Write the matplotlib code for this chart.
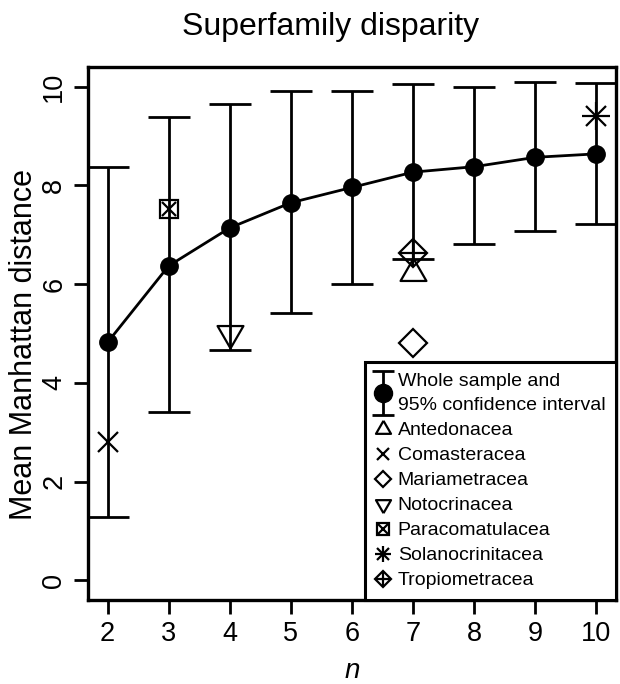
import numpy as np
import matplotlib
matplotlib.use('Agg')
import matplotlib.pyplot as plt
from matplotlib.lines import Line2D
from matplotlib.legend_handler import HandlerTuple, HandlerErrorbar

plt.rcParams['font.family'] = ['Liberation Sans', 'DejaVu Sans']

# whole-sample rarefaction: mean and 95% CI per n
n_vals = [2, 3, 4, 5, 6, 7, 8, 9, 10]
mean_dist = [4.82, 6.37, 7.14, 7.65, 7.96, 8.27, 8.38, 8.57, 8.64]
ci_upper = [8.37, 9.38, 9.65, 9.91, 9.91, 10.05, 9.99, 10.10, 10.07]
ci_lower = [1.28, 3.41, 4.66, 5.42, 6.01, 6.51, 6.81, 7.08, 7.22]

# superfamilies: (name, n, mean distance)
fam_names = ['Antedonacea', 'Comasteracea', 'Mariametracea', 'Notocrinacea',
             'Paracomatulacea', 'Solanocrinitacea', 'Tropiometracea']
fam_n = [7, 2, 7, 4, 3, 10, 7]
fam_dist = [6.23, 2.80, 4.81, 5.00, 7.52, 9.41, 6.63]

# equilateral triangles, centred on the centroid (like R pch 2 / 6)
TRI_UP = [(0, 1), (-0.866, -0.5), (0.866, -0.5), (0, 1)]
TRI_DN = [(0, -1), (-0.866, 0.5), (0.866, 0.5), (0, -1)]

LW = 2.0
k = dict(color='k', mfc='none', mec='k', mew=1.6, ls='none')
# marker pieces per family: (marker, size in plot, size in legend)
styles = {
    'Antedonacea': [(TRI_UP, 21.5, 12.5)],
    'Comasteracea': [('x', 15, 9)],
    'Mariametracea': [('D', 14.5, 8.5)],
    'Notocrinacea': [(TRI_DN, 21.5, 12.5)],
    'Paracomatulacea': [('s', 13.5, 8.5), ('x', 10, 6.5)],
    'Solanocrinitacea': [('+', 20, 12), ('x', 14, 8.5)],
    'Tropiometracea': [('D', 14.5, 8.5), ('+', 20, 12)],
}

fig = plt.figure(figsize=(6.2, 6.84), dpi=100)
ax = fig.add_axes([88/620, 1-600/684, 528/620, 533/684])

mean = np.array(mean_dist)
yerr = [mean - np.array(ci_lower), np.array(ci_upper) - mean]
ax.plot(n_vals, mean_dist, color='k', lw=LW, zorder=3)
ax.errorbar(n_vals, mean_dist, yerr=yerr, fmt='o', color='k', ms=12.5,
            elinewidth=LW, capsize=15, capthick=LW, zorder=3)

fam_handles = []
for name, nx, dy in zip(fam_names, fam_n, fam_dist):
    parts = []
    for m, ms_main, ms_leg in styles[name]:
        ax.plot([nx], [dy], marker=m, ms=ms_main, zorder=4, **k)
        parts.append(Line2D([], [], marker=m, ms=ms_leg, **k))
    fam_handles.append(tuple(parts))

# proxy for the whole-sample entry (smaller caps than the plot)
proxy = ax.errorbar([np.nan], [np.nan], yerr=[1], fmt='o', color='k', ms=13,
                    elinewidth=LW, capsize=8, capthick=LW)

handles = [proxy] + fam_handles
labels = ['Whole sample and\n95% confidence interval'] + fam_names
hmap = {type(proxy): HandlerErrorbar(yerr_size=1.15)}
for h in fam_handles:
    hmap[h] = HandlerTuple(ndivide=1)
leg = ax.legend(handles, labels, loc='lower right', bbox_to_anchor=(1, 0),
                borderaxespad=0, fontsize=14, frameon=True, fancybox=False,
                framealpha=1, edgecolor='k', borderpad=0.55, handlelength=0.8,
                handletextpad=0.35, labelspacing=0.38, handler_map=hmap)
leg.get_texts()[0].set_linespacing(1.6)
leg.get_frame().set_linewidth(2.2)
leg.set_zorder(5)

ax.set_xlim(1.68, 10.32)
ax.set_ylim(-0.4, 10.4)
ax.set_xticks(n_vals)
ax.set_yticks([0, 2, 4, 6, 8, 10])
for s in ax.spines.values():
    s.set_linewidth(2.4)
ax.tick_params(length=10, width=2.0, labelsize=19.5, pad=5)
for t in ax.get_yticklabels():
    t.set_rotation(90)
    t.set_va('center')
ax.set_xlabel('n', fontsize=20, style='italic', labelpad=8)
ax.set_ylabel('Mean Manhattan distance', fontsize=22)
ax.yaxis.set_label_coords(-0.093, 0.48)
fig.text(331/620, 1-35/684, 'Superfamily disparity', fontsize=23,
         ha='center', va='baseline')

fig.savefig('out.png', dpi=100)
